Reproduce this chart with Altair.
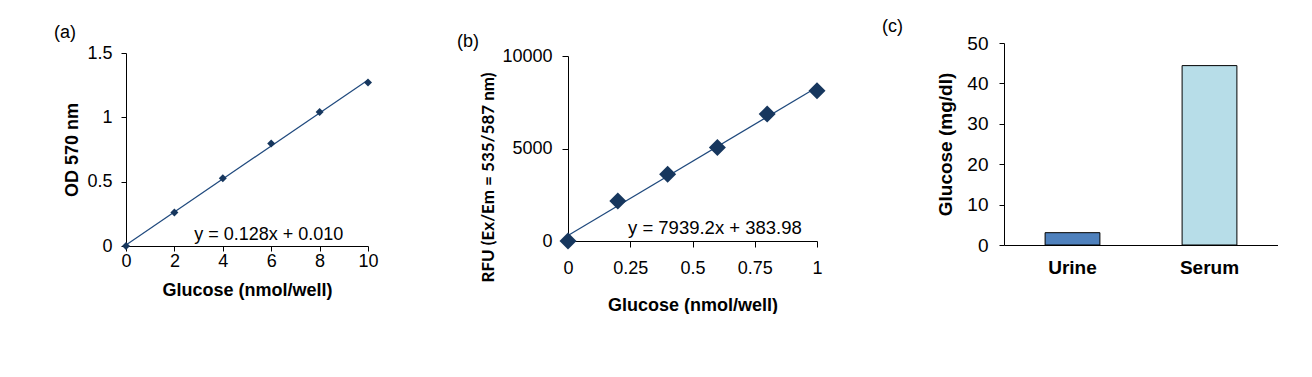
import altair as alt
import pandas as pd

FONT = "Liberation Sans"
NAVY = "#17375e"
LINE = "#1f497d"

# ---- panel (a): colorimetric standard curve ----
a_glucose = [0, 2, 4, 6, 8, 10]
a_od = [0.0, 0.26, 0.526, 0.797, 1.042, 1.271]
a_eq_text = ["y = 0.128x + 0.010"]
a_eq_x = [5.9]
a_eq_y = [0.047]

# ---- panel (b): fluorometric standard curve ----
b_glucose = [0, 0.2, 0.4, 0.6, 0.8, 1.0]
b_rfu = [0, 2166, 3610, 5054, 6859, 8123]
b_eq_text = ["y = 7939.2x + 383.98"]
b_eq_x = [0.59]
b_eq_y = [378]

# ---- panel (c): samples ----
c_sample = ["Urine", "Serum"]
c_glucose = [3.05, 44.4]
c_colors = ["#4f81bd", "#b7dde8"]

df_a = pd.DataFrame({"x": a_glucose, "y": a_od})
df_a_eq = pd.DataFrame({"x": a_eq_x, "y": a_eq_y, "t": a_eq_text})
df_b = pd.DataFrame({"x": b_glucose, "y": b_rfu})
df_b_eq = pd.DataFrame({"x": b_eq_x, "y": b_eq_y, "t": b_eq_text})
df_c = pd.DataFrame({"s": c_sample, "v": c_glucose})
df_anchor = pd.DataFrame({"k": [0]})

LBL = "'' + datum.value"


def ttl(text, dx, dy, size):
    return alt.TitleParams(text=text, anchor="start", frame="group", orient="top",
                           offset=0, dx=dx, dy=dy, fontSize=size, fontWeight="normal",
                           font=FONT, color="black")


# panel a
xa = alt.X("x:Q", scale=alt.Scale(domain=[0, 10], range=[0, 242], nice=False),
           axis=alt.Axis(values=[0, 2, 4, 6, 8, 10], labelExpr=LBL, labelFlush=False,
                         title="Glucose (nmol/well)",
                         tickSize=5, labelPadding=1, titlePadding=11,
                         labelFontSize=18, titleFontSize=18))
ya = alt.Y("y:Q", scale=alt.Scale(domain=[0, 1.5], range=[203, 10], nice=False),
           axis=alt.Axis(values=[0, 0.5, 1, 1.5], labelExpr=LBL, labelFlush=False,
                         title="OD 570 nm",
                         tickSize=5, labelPadding=9, titlePadding=5,
                         labelFontSize=18, titleFontSize=18))
base_a = alt.Chart(df_a).encode(x=xa, y=ya)
line_a = base_a.transform_regression("x", "y", extent=[0, 10]).mark_line(color=LINE, strokeWidth=1.2)
pts_a = base_a.mark_point(shape="diamond", filled=True, size=64, color=NAVY, opacity=1)
eq_a = alt.Chart(df_a_eq).mark_text(fontSize=18, font=FONT, color="black", align="center",
                                    baseline="alphabetic").encode(x=alt.X("x:Q"), y=alt.Y("y:Q"), text="t:N")
anchor = alt.Chart(df_anchor).mark_rule(strokeOpacity=0).encode(
    x=alt.value(-126), x2=alt.value(-125), y=alt.value(-43), y2=alt.value(-42))
panel_a = alt.layer(anchor, line_a, pts_a, eq_a).properties(
    width=255, height=203, title=ttl("(a)", -72, 42, 18))

# panel b
xb = alt.X("x:Q", scale=alt.Scale(domain=[0, 1], nice=False),
           axis=alt.Axis(values=[0, 0.25, 0.5, 0.75, 1], labelExpr=LBL, labelFlush=False,
                         title="Glucose (nmol/well)",
                         tickSize=6, labelPadding=12, titlePadding=19,
                         labelFontSize=18, titleFontSize=18))
yb = alt.Y("y:Q", scale=alt.Scale(domain=[0, 10000], range=[198, 13], nice=False),
           axis=alt.Axis(values=[0, 5000, 10000], labelExpr=LBL, labelFlush=False,
                         title="RFU (Ex/Em = 535/587 nm)",
                         tickSize=6, labelPadding=10,
                         titleFont="Lato", titleFontSize=17, titleX=-80, titleY=134,
                         titleAngle=-90, titleAlign="center", titleBaseline="middle",
                         labelFontSize=18))
base_b = alt.Chart(df_b).encode(x=xb, y=yb)
line_b = base_b.transform_regression("x", "y", extent=[0, 1]).mark_line(color=LINE, strokeWidth=1.2)
pts_b = base_b.mark_point(shape="diamond", filled=True, size=289, color=NAVY, opacity=1)
eq_b = alt.Chart(df_b_eq).mark_text(fontSize=18.5, font=FONT, color="black", align="center",
                                    baseline="alphabetic").encode(x=alt.X("x:Q"), y=alt.Y("y:Q"), text="t:N")
panel_b = alt.layer(line_b, pts_b, eq_b).properties(
    width=249, height=198, title=ttl("(b)", -111, 8, 18))

# panel c
xc = alt.X("s:N", sort=c_sample,
           scale=alt.Scale(paddingInner=0.6, paddingOuter=0.3),
           axis=alt.Axis(title=None, ticks=False, labelAngle=0, labelPadding=13,
                         labelFontSize=19, labelFontWeight="bold"))
yc = alt.Y("v:Q", scale=alt.Scale(domain=[0, 50], nice=False),
           axis=alt.Axis(values=[0, 10, 20, 30, 40, 50], labelExpr=LBL, title="Glucose (mg/dl)",
                         tickSize=5, labelPadding=11, titlePadding=11,
                         labelFontSize=19, titleFontSize=19))
bars_c = alt.Chart(df_c).mark_bar(stroke="black", strokeWidth=1).encode(
    x=xc, y=yc,
    color=alt.Color("s:N", scale=alt.Scale(domain=c_sample, range=c_colors), legend=None))
panel_c = bars_c.properties(width=274, height=202, title=ttl("(c)", -122, 2, 18))

chart = alt.hconcat(panel_a, panel_b, panel_c, spacing=187, bounds="flush").properties(
    padding=0
).configure(font=FONT).configure_view(stroke=None).configure_axis(
    grid=False, domainColor="black", tickColor="black", labelColor="black",
    titleColor="black", labelFont=FONT, titleFont=FONT, titleFontWeight="bold",
    domainWidth=1, tickWidth=1
)

chart.save("out.html", embed_options={"renderer": "svg", "actions": False})
